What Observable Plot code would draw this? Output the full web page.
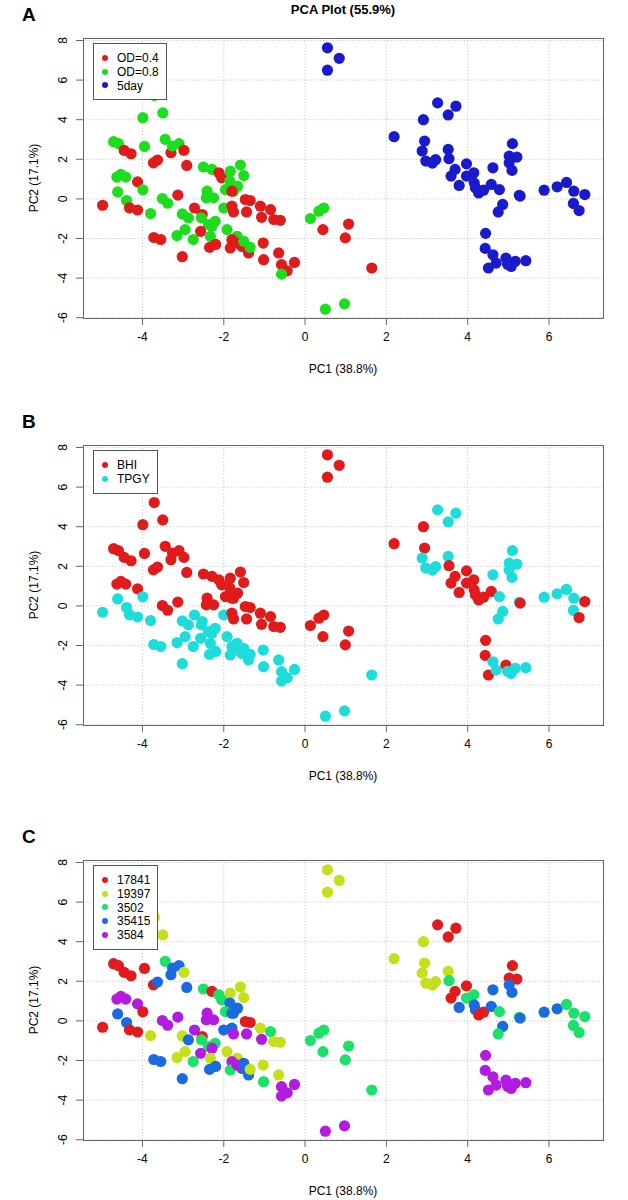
<!DOCTYPE html>
<html><head><meta charset="utf-8">
<script src="https://cdn.jsdelivr.net/npm/d3@7"></script>
<script src="https://cdn.jsdelivr.net/npm/@observablehq/plot@0.6"></script>
<style>
body{margin:0;background:#fff;font-family:"Liberation Sans",Arial,sans-serif;color:#000;}
#page{position:relative;width:628px;height:1200px;overflow:hidden;}
.panel{position:absolute;left:0;width:628px;height:378px;}
.panel svg{position:absolute;left:0;top:0;}
.letter{position:absolute;left:22px;top:4px;font-weight:bold;font-size:19px;}
.title{position:absolute;left:83px;width:520px;top:2px;text-align:center;font-weight:bold;font-size:13px;}
.xlab{position:absolute;left:83px;width:520px;top:362px;text-align:center;font-size:12px;}
.ylab{position:absolute;left:34px;top:178px;transform:translate(-50%,-50%) rotate(-90deg);font-size:12px;white-space:nowrap;}
.legend{position:absolute;left:93px;top:43px;border:1px solid #555;background:#fff;font-size:12px;padding:8px 7px 6px 6px;}
.legend div{height:13.8px;line-height:13.8px;white-space:nowrap;}
.legend span.dot{display:inline-block;width:6px;height:6px;border-radius:50%;margin-right:9px;vertical-align:middle;position:relative;top:-1px;margin-left:2px;}
</style>
</head><body>
<div id="page"></div>
<script>
// Category levels
const odLevels = ["OD=0.4", "OD=0.8", "5day"];
const mediumLevels = ["BHI", "TPGY"];
const strainLevels = ["17841", "19397", "3502", "35415", "3584"];
const odColors = ["#E01B1B", "#1EDC1E", "#1A1ACD"];
const mediumColors = ["#E01B1B", "#1EDCDC"];
const strainColors = ["#E01B1B", "#C3E01B", "#1BE06A", "#1B6AE0", "#B41BE0"];

// PCA scores
const pc1 = [
 -3.71,-3.99,-3.50,-4.71,-4.59,-4.45,-4.28,-3.95,-3.44,-3.30,-3.26,-3.10,-2.98,-3.73,-3.63,-2.91,
 -4.63,-4.53,-4.41,-4.12,-3.99,-4.61,-4.98,-4.39,-4.32,-4.12,-3.80,-3.51,-3.38,-3.13,
 -2.50,-2.29,-2.12,-2.05,-1.59,-1.84,-1.51,-1.85,-1.66,-1.96,-1.76,-1.80,-2.41,-2.43,-2.25,
 -2.00,-2.72,-2.53,-2.55,-3.02,-2.87,-2.38,-2.21,-2.57,
 -1.47,-1.35,-1.80,-1.76,-1.44,-1.10,-0.85,-1.07,-0.77,-0.61,
 -2.29,-2.33,-1.92,-1.67,-1.80,-1.84,-1.55,-1.39,-1.67,-1.51,-1.35,-1.03,-1.02,-0.65,-0.58,-0.44,-0.26,-0.58,
 0.13,0.34,0.46,0.44,1.07,0.99,0.50,0.97,1.64,
 -3.72,-3.55,-3.02,-2.95,-3.15,-2.75,-2.35,-2.20,
 0.55,0.55,0.84,
 3.26,3.71,3.52,2.91,2.19,2.94,2.88,3.52,3.54,2.97,3.21,3.13,3.97,3.69,3.59,3.97,4.15,3.79,4.16,4.19,
 4.27,4.39,4.62,4.58,4.78,5.10,5.02,5.21,5.02,5.09,5.27,5.29,4.86,4.75,5.88,6.20,6.43,6.61,6.88,6.60,6.74,
 4.44,4.43,4.62,4.51,4.70,4.94,5.07,5.17,5.43,4.98
];
const pc2 = [
 5.22,4.10,4.34,2.89,2.79,2.45,2.28,2.65,3.01,2.33,2.67,2.79,2.45,1.82,1.96,1.69,
 1.10,1.24,1.10,0.86,0.46,0.35,-0.32,-0.08,-0.45,-0.56,-0.74,0.02,-0.22,0.19,
 1.61,1.49,1.32,1.06,1.71,1.40,1.18,0.90,0.64,0.47,0.39,0.39,0.39,0.05,0.05,
 -0.46,-0.46,-0.79,-0.96,-0.76,-0.96,-1.30,-1.13,-1.64,
 -0.03,-0.08,-0.37,-0.66,-0.66,-0.37,-0.54,-0.93,-1.04,-1.08,
 -1.38,-1.89,-1.55,-1.89,-2.06,-2.48,-2.40,-2.73,-2.23,-2.14,-2.45,-2.23,-3.07,-2.73,-3.32,-3.63,-3.21,-3.80,
 -0.99,-0.62,-0.46,-1.55,-1.27,-1.97,-5.57,-5.30,-3.49,
 -1.95,-2.05,-2.92,-1.55,-1.85,-2.05,-2.45,-2.30,
 7.63,6.50,7.10,
 4.85,4.68,4.24,4.00,3.14,2.92,2.42,2.50,2.03,1.91,1.98,1.81,1.77,1.49,1.15,1.15,1.32,0.68,0.81,0.56,
 0.30,0.44,1.57,0.73,0.47,2.79,2.16,2.11,1.82,1.44,0.18,0.14,-0.28,-0.66,0.44,0.61,0.83,0.39,0.22,-0.23,-0.59,
 -1.74,-2.50,-2.82,-3.49,-3.24,-2.99,-3.41,-3.15,-3.12,-3.30
];
// group index per sample (into the level arrays above)
const odIdx = [
 1,1,1,1,1,0,0,1,1,0,1,1,0,0,0,0,
 1,1,1,0,1,1,0,1,0,0,1,1,1,0,
 1,1,0,0,1,1,1,1,1,1,1,0,1,1,1,
 1,0,0,1,1,1,1,1,0,
 0,0,0,0,0,0,0,0,0,0,
 1,1,1,1,0,0,0,0,0,1,1,0,0,0,0,0,0,1,
 1,1,1,0,0,0,1,1,0,
 0,0,0,1,1,1,0,0,
 2,2,2,
 2,2,2,2,2,2,2,2,2,2,2,2,2,2,2,2,2,2,2,2,
 2,2,2,2,2,2,2,2,2,2,2,2,2,2,2,2,2,2,2,2,2,
 2,2,2,2,2,2,2,2,2,2
];
const mediumIdx = [
 0,0,0,0,0,0,0,0,0,0,0,0,0,0,0,0,
 0,0,0,0,1,1,1,1,1,1,1,0,0,0,
 0,0,0,0,0,0,0,0,0,0,0,0,0,0,0,
 1,1,1,1,1,1,1,1,1,
 0,0,0,0,0,0,0,0,0,0,
 1,1,1,1,1,1,1,1,1,1,1,1,1,1,1,1,1,1,
 0,0,0,0,0,0,1,1,1,
 1,1,1,1,1,1,1,1,
 0,0,0,
 1,1,1,0,0,0,1,1,0,1,1,1,0,0,0,0,0,0,0,0,
 0,0,1,0,1,1,1,1,1,1,1,0,1,1,1,1,1,1,0,1,0,
 0,0,1,0,1,0,1,1,1,1
];
const strainIdx = [
 1,1,1,0,0,0,0,0,2,3,3,3,1,0,3,3,
 4,4,4,4,0,3,0,3,0,0,1,4,4,4,
 2,0,2,2,1,1,1,3,3,2,3,3,4,4,4,
 3,4,0,2,1,3,2,2,4,
 0,0,3,4,4,1,2,4,1,1,
 4,1,1,1,4,2,3,3,4,3,1,1,2,1,4,4,4,4,
 2,2,2,2,2,2,4,4,2,
 3,3,3,1,1,2,3,3,
 1,1,1,
 0,0,0,1,1,1,1,1,2,1,1,1,0,0,0,2,2,3,3,3,
 0,0,3,3,2,0,0,0,3,3,2,3,3,2,3,3,2,2,2,2,2,
 4,4,4,4,4,4,4,4,4,4
];

const xTicks = [-4, -2, 0, 2, 4, 6];
const yTicks = [-6, -4, -2, 0, 2, 4, 6, 8];

function makePanel(top, letter, levels, colors, idx, withTitle) {
  const page = document.getElementById("page");
  const div = document.createElement("div");
  div.className = "panel";
  div.style.top = top + "px";
  page.appendChild(div);
  const data = pc1.map((x, i) => ({x, y: pc2[i], g: levels[idx[i]]}));
  const svg = Plot.plot({
    width: 628, height: 378,
    marginLeft: 83, marginRight: 25, marginTop: 38, marginBottom: 60,
    style: {fontFamily: '"Liberation Sans", Arial, sans-serif', fontSize: "12px", background: "transparent"},
    x: {domain: [-5.45, 7.34], label: null},
    y: {domain: [-6.04, 8.10], label: null},
    color: {domain: levels, range: colors},
    marks: [
      Plot.gridX(xTicks, {stroke: "#c8c8c8", strokeOpacity: 1, strokeDasharray: "1.2,2"}),
      Plot.gridY(yTicks, {stroke: "#c8c8c8", strokeOpacity: 1, strokeDasharray: "1.2,2"}),
      Plot.dot(data, {x: "x", y: "y", fill: "g", r: 5.6}),
      Plot.frame({stroke: "#666"}),
      Plot.axisX({ticks: xTicks, tickSize: 7, tickPadding: 7, tickFormat: d => String(d), stroke: "#666", label: null, fontSize: 12}),
      Plot.axisY({ticks: yTicks, tickSize: 7, tickFormat: () => "", stroke: "#666", label: null}),
      Plot.text(yTicks, {y: d => d, frameAnchor: "left", dx: -20, rotate: -90, text: d => String(d), textAnchor: "middle", fontSize: 12})
    ]
  });
  div.appendChild(svg);
  const add = (cls, txt) => { const e = document.createElement("div"); e.className = cls; e.textContent = txt; div.appendChild(e); return e; };
  add("letter", letter);
  if (withTitle) add("title", "PCA Plot (55.9%)");
  add("xlab", "PC1 (38.8%)");
  add("ylab", "PC2 (17.1%)");
  const lg = document.createElement("div");
  lg.className = "legend";
  levels.forEach((lv, i) => {
    const row = document.createElement("div");
    const dot = document.createElement("span");
    dot.className = "dot";
    dot.style.background = colors[i];
    row.appendChild(dot);
    row.appendChild(document.createTextNode(lv));
    lg.appendChild(row);
  });
  div.appendChild(lg);
}

makePanel(0, "A", odLevels, odColors, odIdx, true);
makePanel(407, "B", mediumLevels, mediumColors, mediumIdx, false);
makePanel(822, "C", strainLevels, strainColors, strainIdx, false);
</script>
</body></html>
